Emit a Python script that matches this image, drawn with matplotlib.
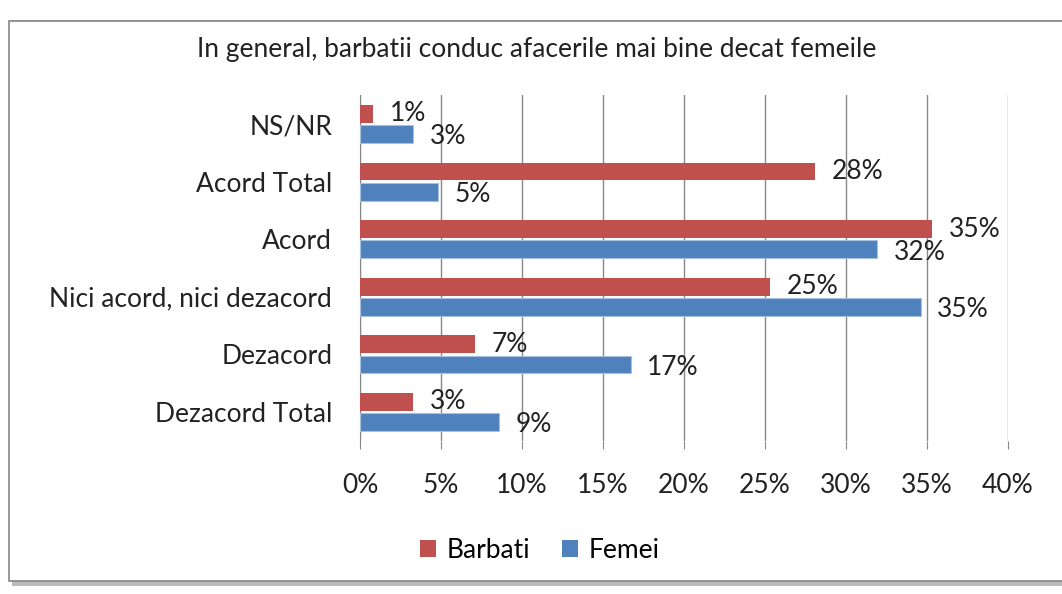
import matplotlib
matplotlib.use("Agg")
import matplotlib.pyplot as plt
from matplotlib.patches import Rectangle, Patch
import numpy as np

plt.rcParams['font.family'] = ['Lato', 'DejaVu Sans']

categories = ["NS/NR", "Acord Total", "Acord", "Nici acord, nici dezacord", "Dezacord", "Dezacord Total"]
barbati = [0.8, 28.1, 35.3, 25.3, 7.1, 3.3]
femei = [3.3, 4.8, 31.9, 34.6, 16.7, 8.6]
barbati_labels = ["1%", "28%", "35%", "25%", "7%", "3%"]
femei_labels = ["3%", "5%", "32%", "35%", "17%", "9%"]
xticks = [0, 5, 10, 15, 20, 25, 30, 35, 40]
title = "In general, barbatii conduc afacerile mai bine decat femeile"

RED = "#C0504D"
BLUE = "#4F81BD"
TXT = "#222222"
FS = 19
W, H = 1062, 594

fig = plt.figure(figsize=(W / 100, H / 100), dpi=100)
fig.patch.set_facecolor("white")

# chart frame with shadow
fig.patches.append(Rectangle((12 / W, 1 - 586 / H), 1.2, 566 / H, transform=fig.transFigure,
                             facecolor="#BBBBBB", edgecolor="none", zorder=-2))
fig.patches.append(Rectangle((9 / W, 1 - 581 / H), 1.2, 560 / H, transform=fig.transFigure,
                             facecolor="white", edgecolor="#868686", linewidth=1.2, zorder=-1))

ax = fig.add_axes([360 / W, 1 - 440.8 / H, 648 / W, 345.6 / H])
ax.set_zorder(2)
ax.set_facecolor("none")

y = np.arange(len(categories))
h = 0.31
off = 0.175
ax.barh(y - off, barbati, height=h, color=RED, zorder=3)
ax.barh(y + off, femei, height=h, color=BLUE, edgecolor="#A7C0DE", linewidth=0.8, zorder=3)

for i in range(len(categories)):
    ax.annotate(barbati_labels[i], (barbati[i], y[i] - off), xytext=(12, 0), textcoords="offset points",
                ha="left", va="center", fontsize=FS, color=TXT)
    ax.annotate(femei_labels[i], (femei[i], y[i] + off), xytext=(12, -2), textcoords="offset points",
                ha="left", va="center", fontsize=FS, color=TXT)

ax.set_xlim(0, 40)
ax.set_ylim(len(categories) - 0.5, -0.5)
ax.set_xticks(xticks)
ax.set_xticklabels([f"{t}%" for t in xticks], fontsize=FS, color=TXT)
ax.set_yticks(y)
ax.set_yticklabels(categories, fontsize=FS, color=TXT)
ax.tick_params(axis="y", length=0, pad=20)
ax.tick_params(axis="x", length=6, color="#888888", pad=17, direction="out")
ax.grid(axis="x", color="#888888", linewidth=1, zorder=0)
for s in ["top", "right", "bottom"]:
    ax.spines[s].set_visible(False)
ax.spines["left"].set_color("#888888")

fig.text(537 / W, 1 - 50 / H, title, ha="center", va="center", fontsize=FS, color=TXT)

handles = [Patch(facecolor=RED, label="Barbati"), Patch(facecolor=BLUE, label="Femei")]
fig.legend(handles=handles, loc="center", bbox_to_anchor=(540 / W, 1 - 550 / H), ncol=2,
           frameon=False, fontsize=FS, handlelength=0.6, handleheight=0.6, handletextpad=0.4,
           columnspacing=1.2)

fig.savefig("out.png", dpi=100)
